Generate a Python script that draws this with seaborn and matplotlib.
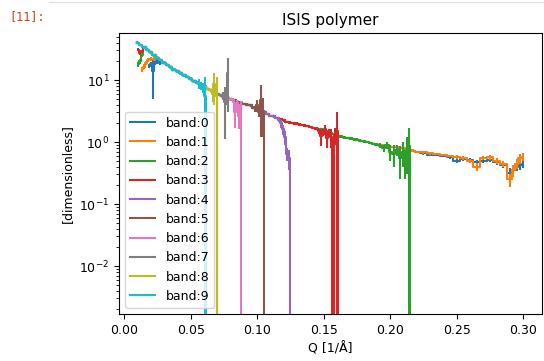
import matplotlib
matplotlib.use("Agg")
import matplotlib.pyplot as plt
import seaborn as sns
import numpy as np

# shared I(Q) curve that all bands sit on
MASTER_Q = [0.0100, 0.0125, 0.0150, 0.0175, 0.0200, 0.0225, 0.0250, 0.0275, 0.0300, 0.0325,
            0.0350, 0.0375, 0.0400, 0.0425, 0.0450, 0.0475, 0.0500, 0.0525, 0.0550, 0.0575,
            0.0600, 0.0625, 0.0650, 0.0675, 0.0700, 0.0725, 0.0750, 0.0775, 0.0800, 0.0825,
            0.0850, 0.0875, 0.0900, 0.0925, 0.0950, 0.0975, 0.1000, 0.1025, 0.1050, 0.1075,
            0.1100, 0.1125, 0.1150, 0.1175, 0.1200, 0.1225, 0.1250, 0.1275, 0.1300, 0.1325,
            0.1350, 0.1375, 0.1400, 0.1425, 0.1450, 0.1475, 0.1500, 0.1525, 0.1550, 0.1575,
            0.1600, 0.1625, 0.1650, 0.1675, 0.1700, 0.1725, 0.1750, 0.1775, 0.1800, 0.1825,
            0.1850, 0.1875, 0.1900, 0.1925, 0.1950, 0.1975, 0.2000, 0.2025, 0.2050, 0.2075,
            0.2100]
MASTER_I = [40, 37, 34, 31, 28, 25, 23, 21, 19, 17.5,
            16, 14.8, 13.8, 12.8, 12, 11.2, 10.5, 9.6, 9.1, 8.4,
            7.9, 7.2, 6.9, 6.2, 5.9, 5.7, 5.4, 5.2, 4.9, 4.8,
            4.5, 4.3, 4.1, 4.0, 3.9, 3.6, 3.5, 3.3, 3.1, 2.85,
            2.65, 2.6, 2.45, 2.35, 2.25, 2.1, 2.05, 2.02, 1.97, 1.9,
            1.85, 1.82, 1.75, 1.68, 1.65, 1.6, 1.55, 1.47, 1.42, 1.33,
            1.27, 1.24, 1.2, 1.16, 1.15, 1.11, 1.09, 1.05, 1.03, 1.0,
            0.97, 0.93, 0.91, 0.89, 0.87, 0.85, 0.84, 0.83, 0.82, 0.8,
            0.79]
MASTER_REL_ERR = 0.05

# range of the shared curve used by each band
MAIN_START = [0.0300, 0.0250, 0.0150, 0.0150, 0.0100, 0.0100, 0.0100, 0.0100, 0.0100, 0.0100]
MAIN_END = [0.2100, 0.2100, 0.1900, 0.1450, 0.1150, 0.0975, 0.0800, 0.0725, 0.0650, 0.0550]

# low-Q start of the first bands
HEAD_Q = {0: [0.0185, 0.0200, 0.0215, 0.0230, 0.0250, 0.0270],
          1: [0.0135, 0.0150, 0.0165, 0.0180, 0.0200, 0.0225],
          2: [0.0105, 0.0120, 0.0135],
          3: [0.0105, 0.0120, 0.0135]}
HEAD_I = {0: [17, 18, 14, 19, 20, 19],
          1: [15, 16.5, 19, 21, 22, 22],
          2: [18, 20, 25],
          3: [31, 27, 29]}
HEAD_E = {0: [1.5, 1.5, 9, 1.5, 1.5, 1.5],
          1: [1.5, 1.5, 1.5, 1.5, 1.5, 1.5],
          2: [1.5, 1.5, 1.5],
          3: [1.5, 1.5, 1.5]}

# high-Q end of every band (noisy, large errors, drop to zero)
TAIL_Q = {
    0: [0.2125, 0.2150, 0.2175, 0.2200, 0.2250, 0.2300, 0.2350, 0.2400, 0.2450, 0.2500,
        0.2550, 0.2600, 0.2650, 0.2700, 0.2750, 0.2800, 0.2850, 0.2900, 0.2925, 0.2950,
        0.2975, 0.3000],
    1: [0.2125, 0.2150, 0.2175, 0.2200, 0.2250, 0.2300, 0.2350, 0.2400, 0.2450, 0.2500,
        0.2550, 0.2600, 0.2650, 0.2700, 0.2750, 0.2800, 0.2850, 0.2900, 0.2925, 0.2950,
        0.2975, 0.3000],
    2: [0.1925, 0.1950, 0.1975, 0.2000, 0.2025, 0.2050, 0.2075, 0.2100, 0.2115,
        0.2130, 0.2145, 0.2160],
    3: [0.1465, 0.1480, 0.1495, 0.1510, 0.1525, 0.1540, 0.1555, 0.1570, 0.1585,
        0.1600, 0.1610],
    4: [0.1165, 0.1180, 0.1195, 0.1210, 0.1225, 0.1240, 0.1255],
    5: [0.0985, 0.1000, 0.1015, 0.1030, 0.1045, 0.1060],
    6: [0.0815, 0.0830, 0.0845, 0.0860, 0.0875, 0.0886],
    7: [0.0740, 0.0755, 0.0768, 0.0780],
    8: [0.0665, 0.0675, 0.0685, 0.0695, 0.0700],
    9: [0.0565, 0.0580, 0.0595, 0.0610, 0.0625],
}
TAIL_I = {
    0: [0.77, 0.74, 0.72, 0.69, 0.66, 0.63, 0.62, 0.60, 0.57, 0.50,
        0.53, 0.52, 0.48, 0.50, 0.52, 0.47, 0.43, 0.32, 0.36, 0.40,
        0.42, 0.44],
    1: [0.78, 0.75, 0.73, 0.70, 0.68, 0.66, 0.64, 0.62, 0.60, 0.58,
        0.55, 0.50, 0.40, 0.55, 0.57, 0.50, 0.45, 0.25, 0.35, 0.45,
        0.55, 0.58],
    2: [0.88, 0.80, 0.90, 0.70, 0.65, 0.75, 0.55, 0.70, 0.50, 0.75, 0.85, 0],
    3: [1.5, 1.25, 1.45, 1.6, 1.15, 1.4, 1.2, 0, 1.3, 1.5, 0],
    4: [2.3, 2.0, 1.6, 1.2, 0.65, 0.55, 0],
    5: [3.4, 3.9, 3.0, 4.7, 3.2, 0],
    6: [4.7, 3.0, 4.3, 2.6, 4.0, 0],
    7: [5.6, 4.4, 5.0, 13],
    8: [6.0, 8.5, 6.2, 5.5, 0],
    9: [8.8, 8.0, 7.6, 5.5, 0],
}
TAIL_E = {
    0: [0.03, 0.03, 0.03, 0.03, 0.03, 0.03, 0.03, 0.03, 0.03, 0.04,
        0.04, 0.04, 0.04, 0.04, 0.05, 0.05, 0.05, 0.06, 0.06, 0.06,
        0.06, 0.06],
    1: [0.03, 0.03, 0.03, 0.03, 0.03, 0.03, 0.03, 0.03, 0.03, 0.04,
        0.04, 0.04, 0.06, 0.04, 0.05, 0.05, 0.05, 0.06, 0.08, 0.08,
        0.10, 0.08],
    2: [0.08, 0.10, 0.12, 0.20, 0.25, 0.15, 0.30, 0.30, 0.25, 0.45, 0.85, 0],
    3: [0.15, 0.40, 0.20, 0.30, 0.35, 0.20, 0.40, 0, 0.40, 1.5, 0],
    4: [0.2, 0.3, 0.3, 0.3, 0.15, 0.2, 0],
    5: [0.4, 0.8, 0.5, 3.5, 2.0, 0],
    6: [0.5, 1.3, 0.5, 1.0, 0.6, 0],
    7: [0.8, 3.3, 1.0, 10],
    8: [1.5, 4.5, 0.8, 5.6, 0],
    9: [1.5, 1.2, 1.5, 5.6, 0],
}

fig = plt.figure(figsize=(5.44, 3.61), dpi=100)
ax = fig.add_axes([0.219, 0.130, 0.777, 0.778])
colors = sns.color_palette("tab10", 10)

for k in range(10):
    mq = [q for q in MASTER_Q if MAIN_START[k] - 1e-9 <= q <= MAIN_END[k] + 1e-9]
    mi = [MASTER_I[MASTER_Q.index(q)] for q in mq]
    q = HEAD_Q.get(k, []) + mq + TAIL_Q[k]
    i = HEAD_I.get(k, []) + mi + TAIL_I[k]
    e = HEAD_E.get(k, []) + [v * MASTER_REL_ERR for v in mi] + TAIL_E[k]
    sns.lineplot(x=q, y=i, ax=ax, color=colors[k], label=f"band:{k}",
                 drawstyle="steps-mid", estimator=None, sort=False, linewidth=1.5)
    q, i, e = np.array(q), np.array(i, float), np.array(e, float)
    m = e > 0
    ax.errorbar(q[m], i[m], yerr=e[m], fmt="none", ecolor=colors[k], elinewidth=1.5)

ax.set_yscale("log")
ax.set_xlim(-0.0038, 0.314)
ax.set_ylim(1.68e-3, 57)
ax.set_title("ISIS polymer", fontsize=11)
ax.set_xlabel("Q [1/Å]", fontsize=9)
ax.set_ylabel("[dimensionless]", fontsize=9)
ax.tick_params(labelsize=9)
ax.legend(loc="lower left", fontsize=9)

fig.text(0.018, 0.955, "[11]:", color="#d84315", fontsize=8.5,
         family="DejaVu Sans Mono", va="center")
fig.add_artist(plt.Line2D([0.09, 1.0], [0.995, 0.995], color="#e0e0e0", lw=1))

fig.savefig("out.png", dpi=100)
